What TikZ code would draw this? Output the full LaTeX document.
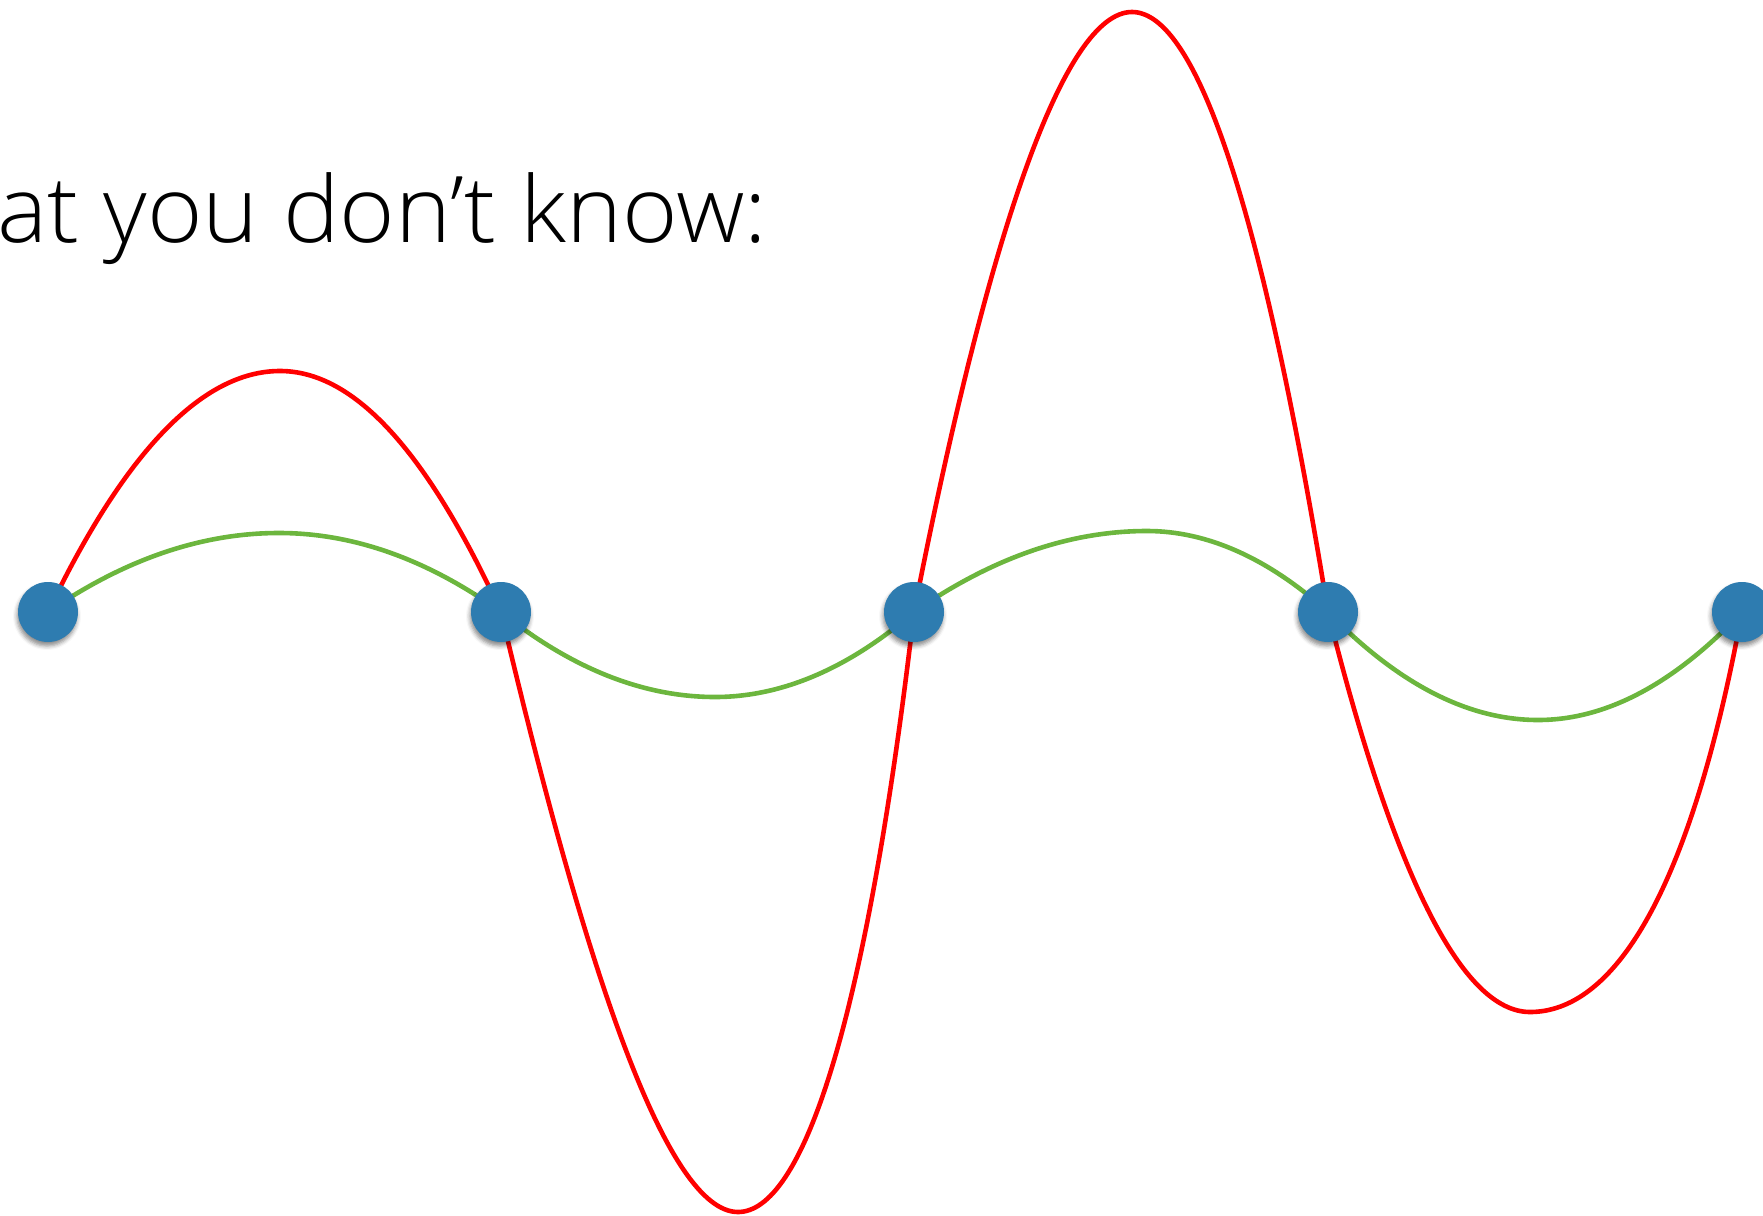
\documentclass[tikz,border=0pt]{standalone}
\usepackage{fontspec}
\IfFontExistsTF{Open Sans Light}{\setmainfont{Open Sans Light}}{%
  \IfFontExistsTF{Lato Light}{\setmainfont{Lato Light}}{\setmainfont{TeX Gyre Heros}}}
\usetikzlibrary{shadows.blur}
\definecolor{dotblue}{RGB}{46,124,176}
\definecolor{fitgreen}{RGB}{108,182,62}
\definecolor{fitred}{RGB}{255,0,0}
\tikzset{
  dot/.style={circle, fill=dotblue, minimum size=60pt, inner sep=0pt,
    blur shadow={shadow xshift=-1pt, shadow yshift=-4pt, shadow blur radius=4pt, shadow opacity=45}},
  redcurve/.style={draw=fitred, line width=4.6pt},
  greencurve/.style={draw=fitgreen, line width=4.6pt},
  title/.style={font=\fontsize{92}{100}\selectfont, inner sep=0pt, anchor=base west}
}
\begin{document}
\begin{tikzpicture}[x=1pt,y=-1pt]
\useasboundingbox (0,0) rectangle (1763,1215);
\node[title] (t) at (-3,242) {\resizebox{770pt}{\height}{at you don’t know:}};
% data points
\coordinate (p1) at (48,612);
\coordinate (p2) at (501,612);
\coordinate (p3) at (914,612);
\coordinate (p4) at (1328,612);
\coordinate (p5) at (1742,612);
% red extremes
\coordinate (r1) at (280,371);
\coordinate (r2) at (738,1212);
\coordinate (r3) at (1132,12);
\coordinate (r4) at (1530,1012);
% green extremes
\coordinate (g1) at (279,533);
\coordinate (g2) at (715,697);
\coordinate (g3) at (1147,531);
\coordinate (g4) at (1538,720);
% red overfit curve
\draw[redcurve] (p1) .. controls (125,451) and (203,371) .. (r1)
  .. controls (354,371) and (427,451) .. (p2)
  .. controls (586,972) and (667,1212) .. (r2)
  .. controls (801,1212) and (865,1032) .. (p3)
  .. controls (988,234) and (1064,12) .. (r3)
  .. controls (1197,12) and (1263,212) .. (p4)
  .. controls (1395,879) and (1463,1012) .. (r4)
  .. controls (1611,1012) and (1689,900) .. (p5);
% green curve
\draw[greencurve] (p1) .. controls (125,559) and (202,533) .. (g1)
  .. controls (353,533) and (427,559) .. (p2)
  .. controls (572,669) and (644,697) .. (g2)
  .. controls (781,697) and (848,669) .. (p3)
  .. controls (992,558) and (1069,531) .. (g3)
  .. controls (1207,531) and (1268,558) .. (p4)
  .. controls (1398,684) and (1468,720) .. (g4)
  .. controls (1606,720) and (1674,684) .. (p5);
% points
\node[dot] (n1) at (p1) {};
\node[dot] (n2) at (p2) {};
\node[dot] (n3) at (p3) {};
\node[dot] (n4) at (p4) {};
\node[dot] (n5) at (p5) {};
\end{tikzpicture}
\end{document}
